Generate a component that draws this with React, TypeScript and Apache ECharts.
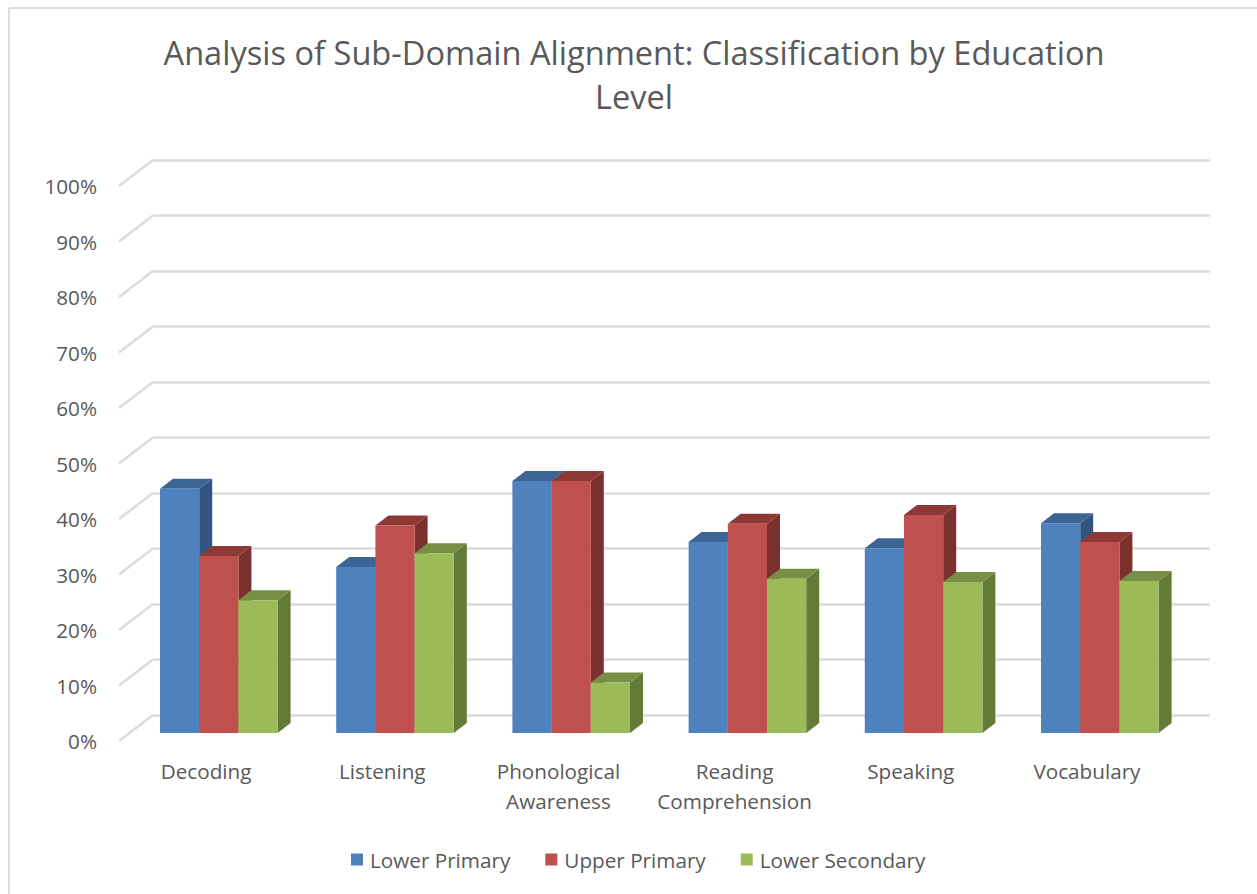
import React, { useEffect, useRef } from "react";
import * as echarts from "echarts";

const categories = ["Decoding", "Listening", "Phonological\nAwareness", "Reading\nComprehension", "Speaking", "Vocabulary"];
const lowerPrimary = [44, 29.9, 45.4, 34.4, 33.3, 37.8];
const upperPrimary = [31.9, 37.4, 45.4, 37.7, 39.3, 34.4];
const lowerSecondary = [23.9, 32.4, 9.1, 27.8, 27.2, 27.4];
const tickValues = [0, 10, 20, 30, 40, 50, 60, 70, 80, 90, 100];
const titleText = "Analysis of Sub-Domain Alignment: Classification by Education\nLevel";

const TEXT = "#595959";
const GRID = "#dcdcdc";
const FONT = "'Open Sans', sans-serif";
const BAR_RATIO = 39.2 / 176.2;
const DX = 13;
const DY = 10;

function barSeries(name: string, values: number[], idx: number, front: string, top: string, side: string) {
  return {
    name,
    type: "custom",
    xAxisIndex: 2,
    yAxisIndex: 2,
    z: 5 + idx,
    clip: false,
    silent: true,
    itemStyle: { color: front },
    encode: { x: 0, y: 1 },
    data: values.map((v, i) => [i, v]),
    renderItem: (_p: any, api: any) => {
      const cat = api.value(0);
      const val = api.value(1);
      const [cx, yT] = api.coord([cat, val]);
      const [, y0] = api.coord([cat, 0]);
      const w = api.size([1, 0])[0] * BAR_RATIO;
      const x = cx - 1.5 * w + idx * w;
      return {
        type: "group",
        children: [
          {
            type: "polygon",
            shape: { points: [[x + w, yT], [x + w + DX, yT - DY], [x + w + DX, y0 - DY], [x + w, y0]] },
            style: { fill: side, stroke: null },
          },
          {
            type: "polygon",
            shape: { points: [[x, yT], [x + DX, yT - DY], [x + w + DX, yT - DY], [x + w, yT]] },
            style: { fill: top, stroke: null },
          },
          {
            type: "rect",
            shape: { x, y: yT, width: w, height: y0 - yT },
            style: { fill: front, stroke: null },
          },
        ],
      };
    },
  };
}

export default function App() {
  const ref = useRef<HTMLDivElement>(null);
  useEffect(() => {
    const chart = echarts.init(ref.current!, null, { renderer: "svg" });
    const hiddenX = { type: "category", data: categories, axisLine: { show: false }, axisTick: { show: false }, axisLabel: { show: false } };
    const hiddenY = { type: "value", min: 0, max: 100, interval: 10, axisLine: { show: false }, axisTick: { show: false }, axisLabel: { show: false }, splitLine: { show: false } };
    chart.setOption({
      animation: false,
      backgroundColor: "#ffffff",
      textStyle: { fontFamily: FONT },
      title: {
        text: titleText,
        left: 629,
        top: 25,
        textAlign: "center",
        textStyle: { fontFamily: FONT, fontSize: 32.6, fontWeight: "normal", color: TEXT, lineHeight: 44 },
      },
      legend: {
        left: 346,
        top: 844,
        icon: "rect",
        itemWidth: 12,
        itemHeight: 12,
        itemGap: 35,
        data: ["Lower Primary", "Upper Primary", "Lower Secondary"],
        textStyle: { fontFamily: FONT, fontSize: 20.7, color: TEXT, padding: [0, 0, 0, 2] },
      },
      grid: [
        { left: 118, top: 186, width: 1057, height: 555 },
        { left: 153, top: 160, width: 1057, height: 555 },
        { left: 130.7, top: 178, width: 1057.2, height: 555 },
      ],
      xAxis: [
        {
          gridIndex: 0,
          type: "category",
          data: categories,
          axisLine: { show: false },
          axisTick: { show: false },
          axisLabel: { interval: 0, fontFamily: FONT, fontSize: 20.7, color: TEXT, lineHeight: 30, margin: 15 },
        },
        { ...hiddenX, gridIndex: 1 },
        { ...hiddenX, gridIndex: 2 },
      ],
      yAxis: [
        {
          gridIndex: 0,
          type: "value",
          min: 0,
          max: 100,
          interval: 10,
          axisLine: { show: false },
          axisTick: { show: false },
          splitLine: { show: false },
          axisLabel: { formatter: "{value}%", fontFamily: FONT, fontSize: 20.7, color: TEXT, margin: 21 },
        },
        { ...hiddenY, gridIndex: 1, splitLine: { show: true, lineStyle: { color: GRID, width: 2.6 } } },
        { ...hiddenY, gridIndex: 2 },
      ],
      series: [
        {
          name: "wall",
          type: "custom",
          xAxisIndex: 0,
          yAxisIndex: 0,
          silent: true,
          z: 1,
          clip: false,
          encode: { y: 0 },
          data: tickValues.map((t) => [t]),
          renderItem: (p: any, api: any) => {
            const x0 = p.coordSys.x + 1;
            const [, y] = api.coord([0, api.value(0)]);
            return {
              type: "line",
              shape: { x1: x0, y1: y, x2: x0 + 34, y2: y - 26 },
              style: { stroke: GRID, lineWidth: 2.6, fill: null },
            };
          },
        },
        barSeries("Lower Primary", lowerPrimary, 0, "#4f81bd", "#3c6494", "#325480"),
        barSeries("Upper Primary", upperPrimary, 1, "#c0504d", "#8e3836", "#7c302e"),
        barSeries("Lower Secondary", lowerSecondary, 2, "#9bbb59", "#778f45", "#647a39"),
      ],
      graphic: [
        { type: "line", shape: { x1: 9, y1: 8, x2: 1257, y2: 8 }, style: { stroke: GRID, lineWidth: 2 } },
        { type: "line", shape: { x1: 9, y1: 8, x2: 9, y2: 894 }, style: { stroke: GRID, lineWidth: 2 } },
      ],
    });
    return () => chart.dispose();
  }, []);
  return <div ref={ref} style={{ position: "absolute", left: 0, top: 0, width: 1257, height: 894 }} />;
}
